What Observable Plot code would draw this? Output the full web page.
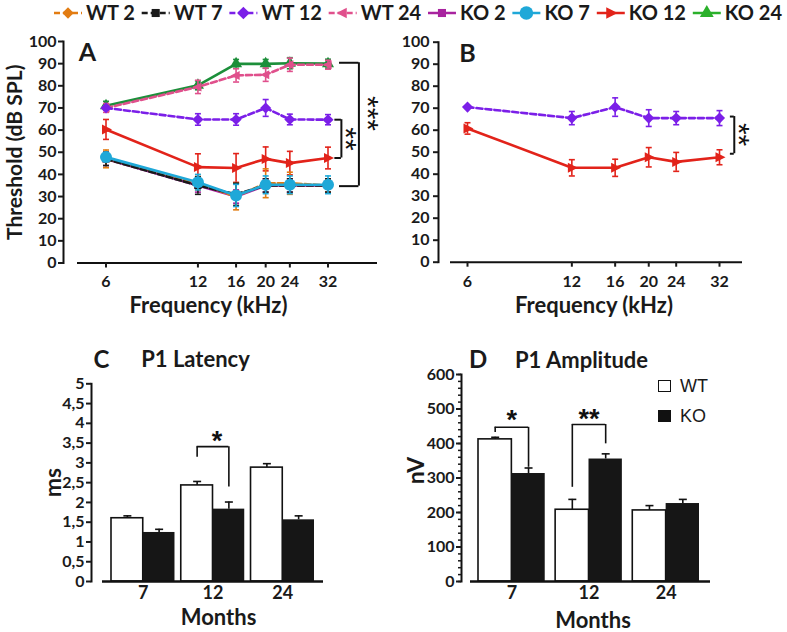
<!DOCTYPE html>
<html><head><meta charset="utf-8">
<script src="https://cdn.jsdelivr.net/npm/d3@7"></script>
<script src="https://cdn.jsdelivr.net/npm/@observablehq/plot@0.6"></script>
<style>
body{margin:0;background:#fff;}
#root{position:relative;width:787px;height:632px;overflow:hidden;background:#fff;font-family:Lato,sans-serif;}
.panel{position:absolute;}
#legend{position:absolute;left:0;top:0;width:787px;height:28px;}
#legD{position:absolute;left:658px;top:371px;font:18px "Liberation Sans",Arial,sans-serif;color:#1a1a1a;}
#legD .row{display:flex;align-items:center;gap:9px;height:30px;}
#legD .box{width:13px;height:12px;border:1.5px solid #111;box-sizing:border-box;}
</style></head><body>
<div id="root">
  <div id="legend"></div>
  <div class="panel" id="pA" style="left:0;top:30px;width:390px;height:290px"></div>
  <div class="panel" id="pB" style="left:390px;top:30px;width:397px;height:290px"></div>
  <div class="panel" id="pC" style="left:0;top:340px;width:390px;height:292px"></div>
  <div class="panel" id="pD" style="left:390px;top:340px;width:397px;height:292px"></div>
  <div id="legD"></div>
</div>
<script>
// ---------------- DATA ----------------
const freqs = [6, 12, 16, 20, 24, 32];
const seriesNames = ["WT 2", "WT 7", "WT 12", "WT 24", "KO 2", "KO 7", "KO 12", "KO 24"];
const thresholdTicks = [0, 10, 20, 30, 40, 50, 60, 70, 80, 90, 100];

const wt2 = [47, 36, 30, 36, 36, 35];
const wt2Err = [4, 3, 6, 6.5, 5, 3];
const wt7 = [47, 35, 31, 35, 35, 35];
const wt7Err = [3, 4, 5, 3, 3, 3];
const wt12 = [70, 64.8, 64.8, 70, 64.8, 64.7];
const wt12Err = [1, 2.6, 2.6, 3.8, 2.4, 2.3];
const wt24 = [70, 79.5, 84.7, 85, 89.5, 89.5];
const wt24Err = [2, 3, 3, 3, 3, 2];
const ko2 = [47, 35, 30, 35, 35, 35];
const ko2Err = [3, 3, 3, 3, 3, 3];
const ko7 = [47.8, 36.5, 30.5, 35.3, 35.3, 35.3];
const ko7Err = [2, 3.5, 5, 4, 4, 4];
const ko12 = [60.3, 43.3, 42.9, 47, 45.1, 47.4];
const ko12Err = [4.5, 6, 6.5, 5.4, 5.3, 4.9];
const ko24 = [71, 80.2, 89.9, 89.9, 90.2, 90];
const ko24Err = [2, 2, 2, 2, 2.5, 2];

const bWt12 = [70.5, 65.5, 70.5, 65.5, 65.5, 65.5];
const bWt12Err = [0.5, 3, 4.2, 3.8, 3, 3.4];
const bKo12 = [60.8, 42.9, 42.9, 47.7, 45.6, 47.7];
const bKo12Err = [2.6, 3.7, 3.9, 4.4, 4.3, 3.4];

const sigA = [
  {label: "***", x1: 34.9, x2: 40.4, y1: 90.4, y2: 34.7, xs: 43.2, ys: 67.5},
  {label: "**", x1: 33.7, x2: 35.4, y1: 64.7, y2: 47.4, xs: 36.6, ys: 56}
];
const sigB = [
  {label: "**", x1: 34.4, x2: 35.3, y1: 66.2, y2: 49.3, xs: 36.4, ys: 58}
];

const months = ["7", "12", "24"];
const groups = ["WT", "KO"];
const latWT = [1.6, 2.43, 2.88];
const latWTErr = [0.06, 0.1, 0.1];
const latKO = [1.24, 1.83, 1.56];
const latKOErr = [0.08, 0.18, 0.1];
const latencyTicks = [0, 0.5, 1, 1.5, 2, 2.5, 3, 3.5, 4, 4.5, 5];
const sigC = [{month: "12", top: 3.41, left: 3.14, right: 2.39, star: 3.55, label: "*"}];

const ampWT = [412, 208, 206];
const ampWTErr = [6, 30, 14];
const ampKO = [313, 355, 226];
const ampKOErr = [16, 15, 12];
const ampTicks = [0, 100, 200, 300, 400, 500, 600];
const ampMinorTicks = d3.range(0, 601, 20);
const sigD = [
  {month: "7", top: 447, left: 432, right: 331, star: 466, label: "*"},
  {month: "12", top: 455, left: 273, right: 399, star: 470, label: "**"}
];

// ---------------- STYLE ----------------
const triRight = {draw(ctx, size) { const r = Math.sqrt(size / Math.PI); ctx.moveTo(r * 1.2, 0); ctx.lineTo(-r * 0.8, -r); ctx.lineTo(-r * 0.8, r); ctx.closePath(); }};
const triLeft = {draw(ctx, size) { const r = Math.sqrt(size / Math.PI); ctx.moveTo(-r * 1.2, 0); ctx.lineTo(r * 0.8, -r); ctx.lineTo(r * 0.8, r); ctx.closePath(); }};
const capSym = {draw(ctx, size) { const r = Math.sqrt(size / Math.PI); ctx.moveTo(-r, 0); ctx.lineTo(r, 0); }};

const styles = {
  "WT 2":  {color: "#e27c12", dash: true,  symbol: d3.symbolDiamond2, r: 4.5},
  "WT 7":  {color: "#1a1a1a", dash: true,  symbol: d3.symbolSquare, r: 4},
  "WT 12": {color: "#7b1fe8", dash: true,  symbol: d3.symbolDiamond2, r: 5},
  "WT 24": {color: "#e0508c", dash: true,  symbol: triLeft, r: 4.5},
  "KO 2":  {color: "#a8239f", dash: false, symbol: d3.symbolSquare, r: 4},
  "KO 7":  {color: "#1fa8d8", dash: false, symbol: d3.symbolCircle, r: 6},
  "KO 12": {color: "#e2231a", dash: false, symbol: triRight, r: 5},
  "KO 24": {color: "#1c8f3a", dash: false, symbol: d3.symbolTriangle, r: 4.5}
};
const legendColor = {"KO 24": "#2ab02a"};

const baseStyle = {fontFamily: "Lato, sans-serif", fontSize: "16px", fontWeight: "bold", color: "#1a1a1a", background: "transparent", overflow: "visible"};
const starFont = "'Liberation Sans', Arial, sans-serif";

function rowsOf(vals, errs) {
  return freqs.map((f, i) => ({f, v: vals[i], lo: vals[i] - errs[i], hi: vals[i] + errs[i]}));
}
function seriesMarks(name, vals, errs) {
  const st = styles[name];
  const rows = rowsOf(vals, errs);
  return [
    Plot.ruleX(rows, {x: "f", y1: "lo", y2: "hi", stroke: st.color, strokeWidth: 1.6}),
    Plot.dot(rows, {x: "f", y: "hi", symbol: capSym, r: 3, stroke: st.color, strokeWidth: 1.6}),
    Plot.dot(rows, {x: "f", y: "lo", symbol: capSym, r: 3, stroke: st.color, strokeWidth: 1.6}),
    Plot.line(rows, {x: "f", y: "v", stroke: st.color, strokeWidth: 2.6, strokeDasharray: st.dash ? "6,3" : null}),
    Plot.dot(rows, {x: "f", y: "v", symbol: st.symbol, r: st.r, fill: st.color, stroke: "none"})
  ];
}
function bracketMarks(sig, starSize) {
  return [
    Plot.ruleY(sig, {y: "y1", x1: "x1", x2: "x2", stroke: "#111", strokeWidth: 2}),
    Plot.ruleY(sig, {y: "y2", x1: "x1", x2: "x2", stroke: "#111", strokeWidth: 2}),
    Plot.ruleX(sig, {x: "x2", y1: "y1", y2: "y2", stroke: "#111", strokeWidth: 2}),
    Plot.text(sig, {x: "xs", y: "ys", text: "label", rotate: 90, fontSize: starSize, fontWeight: "normal", fontFamily: starFont, fill: "#111"})
  ];
}
const t = d => d;
const mid = {textAnchor: "middle", lineAnchor: "middle"};

// ---------------- PANEL A ----------------
const orderA = [["KO 24", ko24, ko24Err], ["WT 24", wt24, wt24Err], ["WT 12", wt12, wt12Err], ["KO 12", ko12, ko12Err],
                ["KO 2", ko2, ko2Err], ["WT 2", wt2, wt2Err], ["WT 7", wt7, wt7Err], ["KO 7", ko7, ko7Err]];
const plotA = Plot.plot({
  width: 390, height: 290,
  marginLeft: 63, marginRight: 20, marginTop: 11, marginBottom: 57.5,
  style: baseStyle,
  x: {type: "log", domain: [6, 32], range: [105.5, 327.5]},
  y: {domain: [0, 100]},
  marks: [
    Plot.frame({anchor: "left", stroke: "#111", strokeWidth: 2}),
    Plot.ruleY([0], {stroke: "#111", strokeWidth: 2, insetLeft: 14, insetRight: -7}),
    Plot.axisY({ticks: thresholdTicks, tickSize: 5, tickPadding: 2, tickFormat: t, label: null, strokeWidth: 2}),
    Plot.axisX({ticks: freqs, tickSize: 5, tickPadding: 8, tickFormat: t, label: null, strokeWidth: 2}),
    ...orderA.flatMap(([n, v, e]) => seriesMarks(n, v, e)),
    ...bracketMarks(sigA, 30),
    Plot.text(["Threshold (dB SPL)"], {frameAnchor: "left", dx: -48, rotate: -90, text: t, fontSize: 21, ...mid}),
    Plot.text(["Frequency (kHz)"], {frameAnchor: "bottom", dx: -8.5, dy: 42.5, text: t, fontSize: 22, ...mid}),
    Plot.text(["A"], {frameAnchor: "top-left", dx: 24, dy: 11, text: t, fontSize: 25, ...mid})
  ]
});
document.getElementById("pA").append(plotA);

// ---------------- PANEL B ----------------
const plotB = Plot.plot({
  width: 397, height: 290,
  marginLeft: 48, marginRight: 30, marginTop: 11.7, marginBottom: 58.3,
  style: baseStyle,
  x: {type: "log", domain: [6, 32], range: [77, 329]},
  y: {domain: [0, 100]},
  marks: [
    Plot.frame({anchor: "left", stroke: "#111", strokeWidth: 2}),
    Plot.ruleY([0], {stroke: "#111", strokeWidth: 2, insetLeft: 12, insetRight: 15}),
    Plot.axisY({ticks: thresholdTicks, tickSize: 5, tickPadding: 4, tickFormat: t, label: null, strokeWidth: 2}),
    Plot.axisX({ticks: freqs, tickSize: 5, tickPadding: 8, tickFormat: t, label: null, strokeWidth: 2}),
    ...seriesMarks("WT 12", bWt12, bWt12Err),
    ...seriesMarks("KO 12", bKo12, bKo12Err),
    ...bracketMarks(sigB, 30),
    Plot.text(["Frequency (kHz)"], {frameAnchor: "bottom", dx: -4, dy: 43.3, text: t, fontSize: 22, ...mid}),
    Plot.text(["B"], {frameAnchor: "top-left", dx: 29, dy: 12, text: t, fontSize: 25, ...mid})
  ]
});
document.getElementById("pB").append(plotB);

// ---------------- BAR PANELS ----------------
function barPanel({wt, wtErr, ko, koErr, ticks, minorTicks, tickFormat, sig, width, height, marginLeft, marginRight, marginTop, marginBottom,
                   range, padInner, domainY, axisInsetLeft, axisInsetRight, yLabel, yLabelDx, yLabelDy, title, titleDx, letter, letterDx, titleDy, xLabelDx, xLabelDy, starDx}) {
  const rows = months.map((m, i) => ({m, wt: wt[i], wtHi: wt[i] + wtErr[i], ko: ko[i], koHi: ko[i] + koErr[i]}));
  const step = (range[1] - range[0]) / (months.length - padInner);
  const bw = step * (1 - padInner);
  const q = bw / 4;
  return Plot.plot({
    width, height, marginLeft, marginRight, marginTop, marginBottom,
    style: baseStyle,
    x: {type: "band", domain: months, range, paddingInner: padInner, paddingOuter: 0, round: false},
    y: {domain: domainY},
    marks: [
      Plot.barY(rows, {x: "m", y: "wt", fill: "white", stroke: "#111", strokeWidth: 1.6, insetRight: bw / 2}),
      Plot.barY(rows, {x: "m", y: "ko", fill: "#161616", insetLeft: bw / 2}),
      Plot.ruleX(rows, {x: "m", y1: "wt", y2: "wtHi", dx: -q, stroke: "#111", strokeWidth: 1.6}),
      Plot.dot(rows, {x: "m", y: "wtHi", dx: -q, symbol: capSym, r: 4, stroke: "#111", strokeWidth: 1.6}),
      Plot.ruleX(rows, {x: "m", y1: "ko", y2: "koHi", dx: q, stroke: "#111", strokeWidth: 1.6}),
      Plot.dot(rows, {x: "m", y: "koHi", dx: q, symbol: capSym, r: 4, stroke: "#111", strokeWidth: 1.6}),
      Plot.frame({anchor: "left", stroke: "#111", strokeWidth: 2}),
      Plot.ruleY([domainY[0]], {stroke: "#111", strokeWidth: 2.5, insetLeft: axisInsetLeft, insetRight: axisInsetRight}),
      minorTicks ? Plot.axisY({ticks: minorTicks, tickSize: 3, tickFormat: () => "", label: null, strokeWidth: 1.5}) : null,
      Plot.axisY({ticks, tickSize: 5, tickPadding: 2, tickFormat, label: null, strokeWidth: 2}),
      Plot.axisX({tickSize: 0, tickPadding: 5, label: null, fontSize: 18}),
      Plot.ruleX(sig, {x: "month", y1: "left", y2: "top", dx: -q, stroke: "#111", strokeWidth: 1.6}),
      Plot.ruleX(sig, {x: "month", y1: "right", y2: "top", dx: q, stroke: "#111", strokeWidth: 1.6}),
      Plot.ruleY(sig, {y: "top", x1: "month", x2: "month", insetLeft: q, insetRight: q, stroke: "#111", strokeWidth: 1.6}),
      Plot.text(sig, {x: "month", y: "star", dx: starDx, text: "label", fontSize: 27, fontWeight: "bold", fontFamily: starFont, fill: "#111"}),
      Plot.text([yLabel], {frameAnchor: "left", dx: yLabelDx, dy: yLabelDy, rotate: -90, text: t, fontSize: 23, ...mid}),
      Plot.text(["Months"], {frameAnchor: "bottom", dx: xLabelDx, dy: xLabelDy, text: t, fontSize: 22, ...mid}),
      Plot.text([letter], {frameAnchor: "top-left", dx: letterDx, dy: titleDy, text: t, fontSize: 24, ...mid}),
      Plot.text([title], {frameAnchor: "top-left", dx: titleDx, dy: titleDy, text: t, fontSize: 22, ...mid})
    ]
  });
}

const plotC = barPanel({
  wt: latWT, wtErr: latWTErr, ko: latKO, koErr: latKOErr,
  ticks: latencyTicks, minorTicks: null, tickFormat: d => String(d).replace(".", ","), sig: sigC,
  width: 390, height: 292, marginLeft: 91, marginRight: 50, marginTop: 43.3, marginBottom: 51,
  range: [111, 314], padInner: 0.09, domainY: [0, 5], axisInsetLeft: 11, axisInsetRight: 17,
  yLabel: "ms", yLabelDx: -38, yLabelDy: 0, title: "P1 Latency", titleDx: 104, letter: "C", letterDx: 10, titleDy: -23.5,
  xLabelDx: 2.5, xLabelDy: 36, starDx: 4
});
document.getElementById("pC").append(plotC);

const plotD = barPanel({
  wt: ampWT, wtErr: ampWTErr, ko: ampKO, koErr: ampKOErr,
  ticks: ampTicks, minorTicks: ampMinorTicks, tickFormat: t, sig: sigD,
  width: 397, height: 292, marginLeft: 71, marginRight: 57, marginTop: 34, marginBottom: 51,
  range: [88, 309], padInner: 0.135, domainY: [0, 600], axisInsetLeft: 9, axisInsetRight: 20,
  yLabel: "nV", yLabelDx: -44.5, yLabelDy: -7.5, title: "P1 Amplitude", titleDx: 120, letter: "D", letterDx: 16.5, titleDy: -14,
  xLabelDx: -3, xLabelDy: 39, starDx: 0
});
document.getElementById("pD").append(plotD);

// ---------------- LEGENDS ----------------
const legSvg = d3.select("#legend").append("svg").attr("width", 787).attr("height", 28)
  .style("font", "bold 20px Lato, sans-serif").style("fill", "#1a1a1a").style("display", "block");
const legStart = 53, legEnd = 782, iconW = 30, iconGap = 3;
const legItems = seriesNames.map(name => {
  const g = legSvg.append("g");
  const st = styles[name];
  const col = legendColor[name] || st.color;
  g.append("line").attr("x1", 1).attr("x2", iconW - 1).attr("y1", 13).attr("y2", 13)
    .attr("stroke", col).attr("stroke-width", 2.5).attr("stroke-dasharray", st.dash ? "6,3" : null);
  g.append("path").attr("transform", `translate(${iconW / 2},13)`)
    .attr("d", d3.symbol(st.symbol, Math.PI * st.r * st.r * 1.3)()).attr("fill", col);
  const txt = g.append("text").attr("x", iconW + iconGap).attr("y", 13).attr("dy", "0.35em").attr("text-anchor", "start").text(name);
  return {g, w: iconW + iconGap + txt.node().getComputedTextLength()};
});
const totalW = d3.sum(legItems, d => d.w);
const spacing = (legEnd - legStart - totalW) / (legItems.length - 1);
let cx = legStart;
legItems.forEach(it => { it.g.attr("transform", `translate(${cx},0)`); cx += it.w + spacing; });

const legD = document.getElementById("legD");
groups.forEach(g => {
  const row = document.createElement("div");
  row.className = "row";
  const box = document.createElement("span");
  box.className = "box";
  box.style.background = g === "WT" ? "#fff" : "#111";
  const label = document.createElement("span");
  label.textContent = g;
  row.append(box, label);
  legD.append(row);
});
</script>
</body></html>
